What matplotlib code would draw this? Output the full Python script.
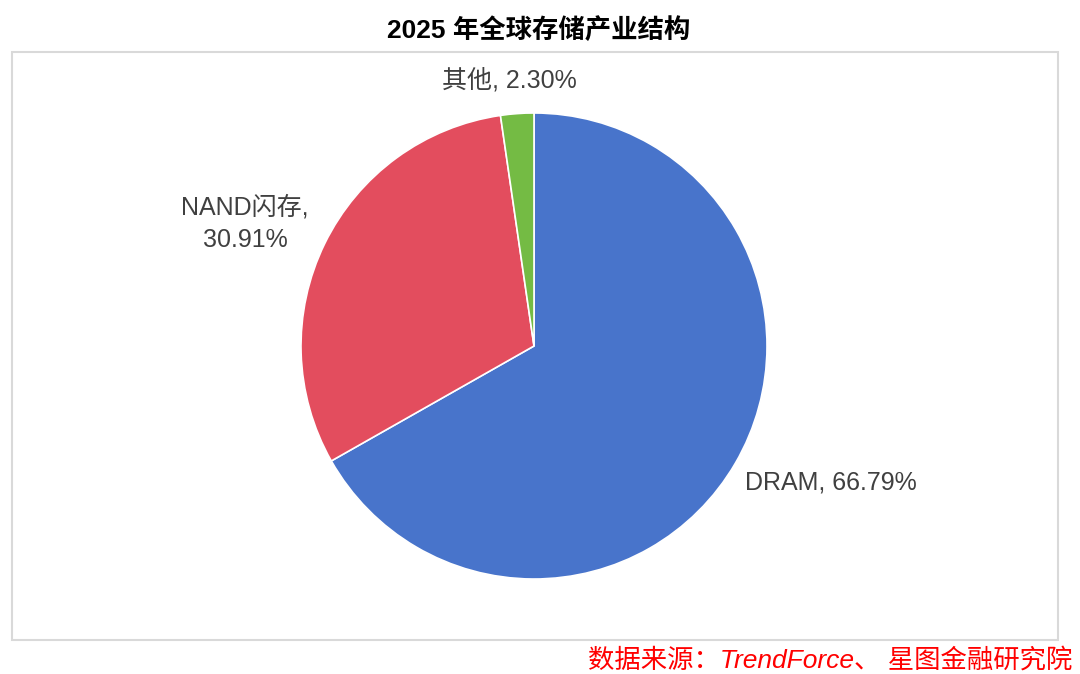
import matplotlib.pyplot as plt
from matplotlib.patches import Rectangle

plt.rcParams['font.family'] = ['Liberation Sans', 'Noto Sans CJK SC', 'DejaVu Sans']

# Data
labels = ["DRAM", "NAND闪存", "其他"]
shares = [66.79, 30.91, 2.30]
colors = ["#4874CB", "#E34D5E", "#74BB44"]

W, H = 1080, 674
fig = plt.figure(figsize=(W / 100, H / 100), dpi=100)

# light gray frame around the chart area
fig.patches.append(Rectangle((12 / W, 1 - 640 / H), (1058 - 12) / W, (640 - 52) / H,
                             transform=fig.transFigure, fill=False,
                             edgecolor="#D9D9D9", linewidth=1.5))

cx, cy, r = 534, 346, 233
ax = fig.add_axes([(cx - r) / W, (H - cy - r) / H, 2 * r / W, 2 * r / H])
ax.pie(shares, colors=colors, startangle=90, counterclock=False, radius=1,
       wedgeprops=dict(edgecolor="white", linewidth=1.2))
ax.set_xlim(-1, 1)
ax.set_ylim(-1, 1)
ax.set_aspect("equal")
ax.axis("off")

txt = dict(fontsize=18, color="#404040", clip_on=False)
ax.text(0.906, -0.584, f"{labels[0]}, {shares[0]:.2f}%", ha="left", va="center", **txt)
ax.text(-1.24, 0.524, f"{labels[1]},\n{shares[1]:.2f}%", ha="center", va="center",
        linespacing=1.45, **txt)
ax.text(-0.107, 1.142, f"{labels[2]}, {shares[2]:.2f}%", ha="center", va="center", **txt)

fig.text(539 / W, 1 - 30 / H, "2025 年全球存储产业结构", ha="center", va="center",
         fontsize=19, fontweight="bold", color="black")
fig.text(1072 / W, 1 - 660 / H, "数据来源：TrendForce、 星图金融研究院", ha="right",
         va="center", fontsize=19, color="#FF0000", style="italic")

fig.savefig("out.png", dpi=100)
